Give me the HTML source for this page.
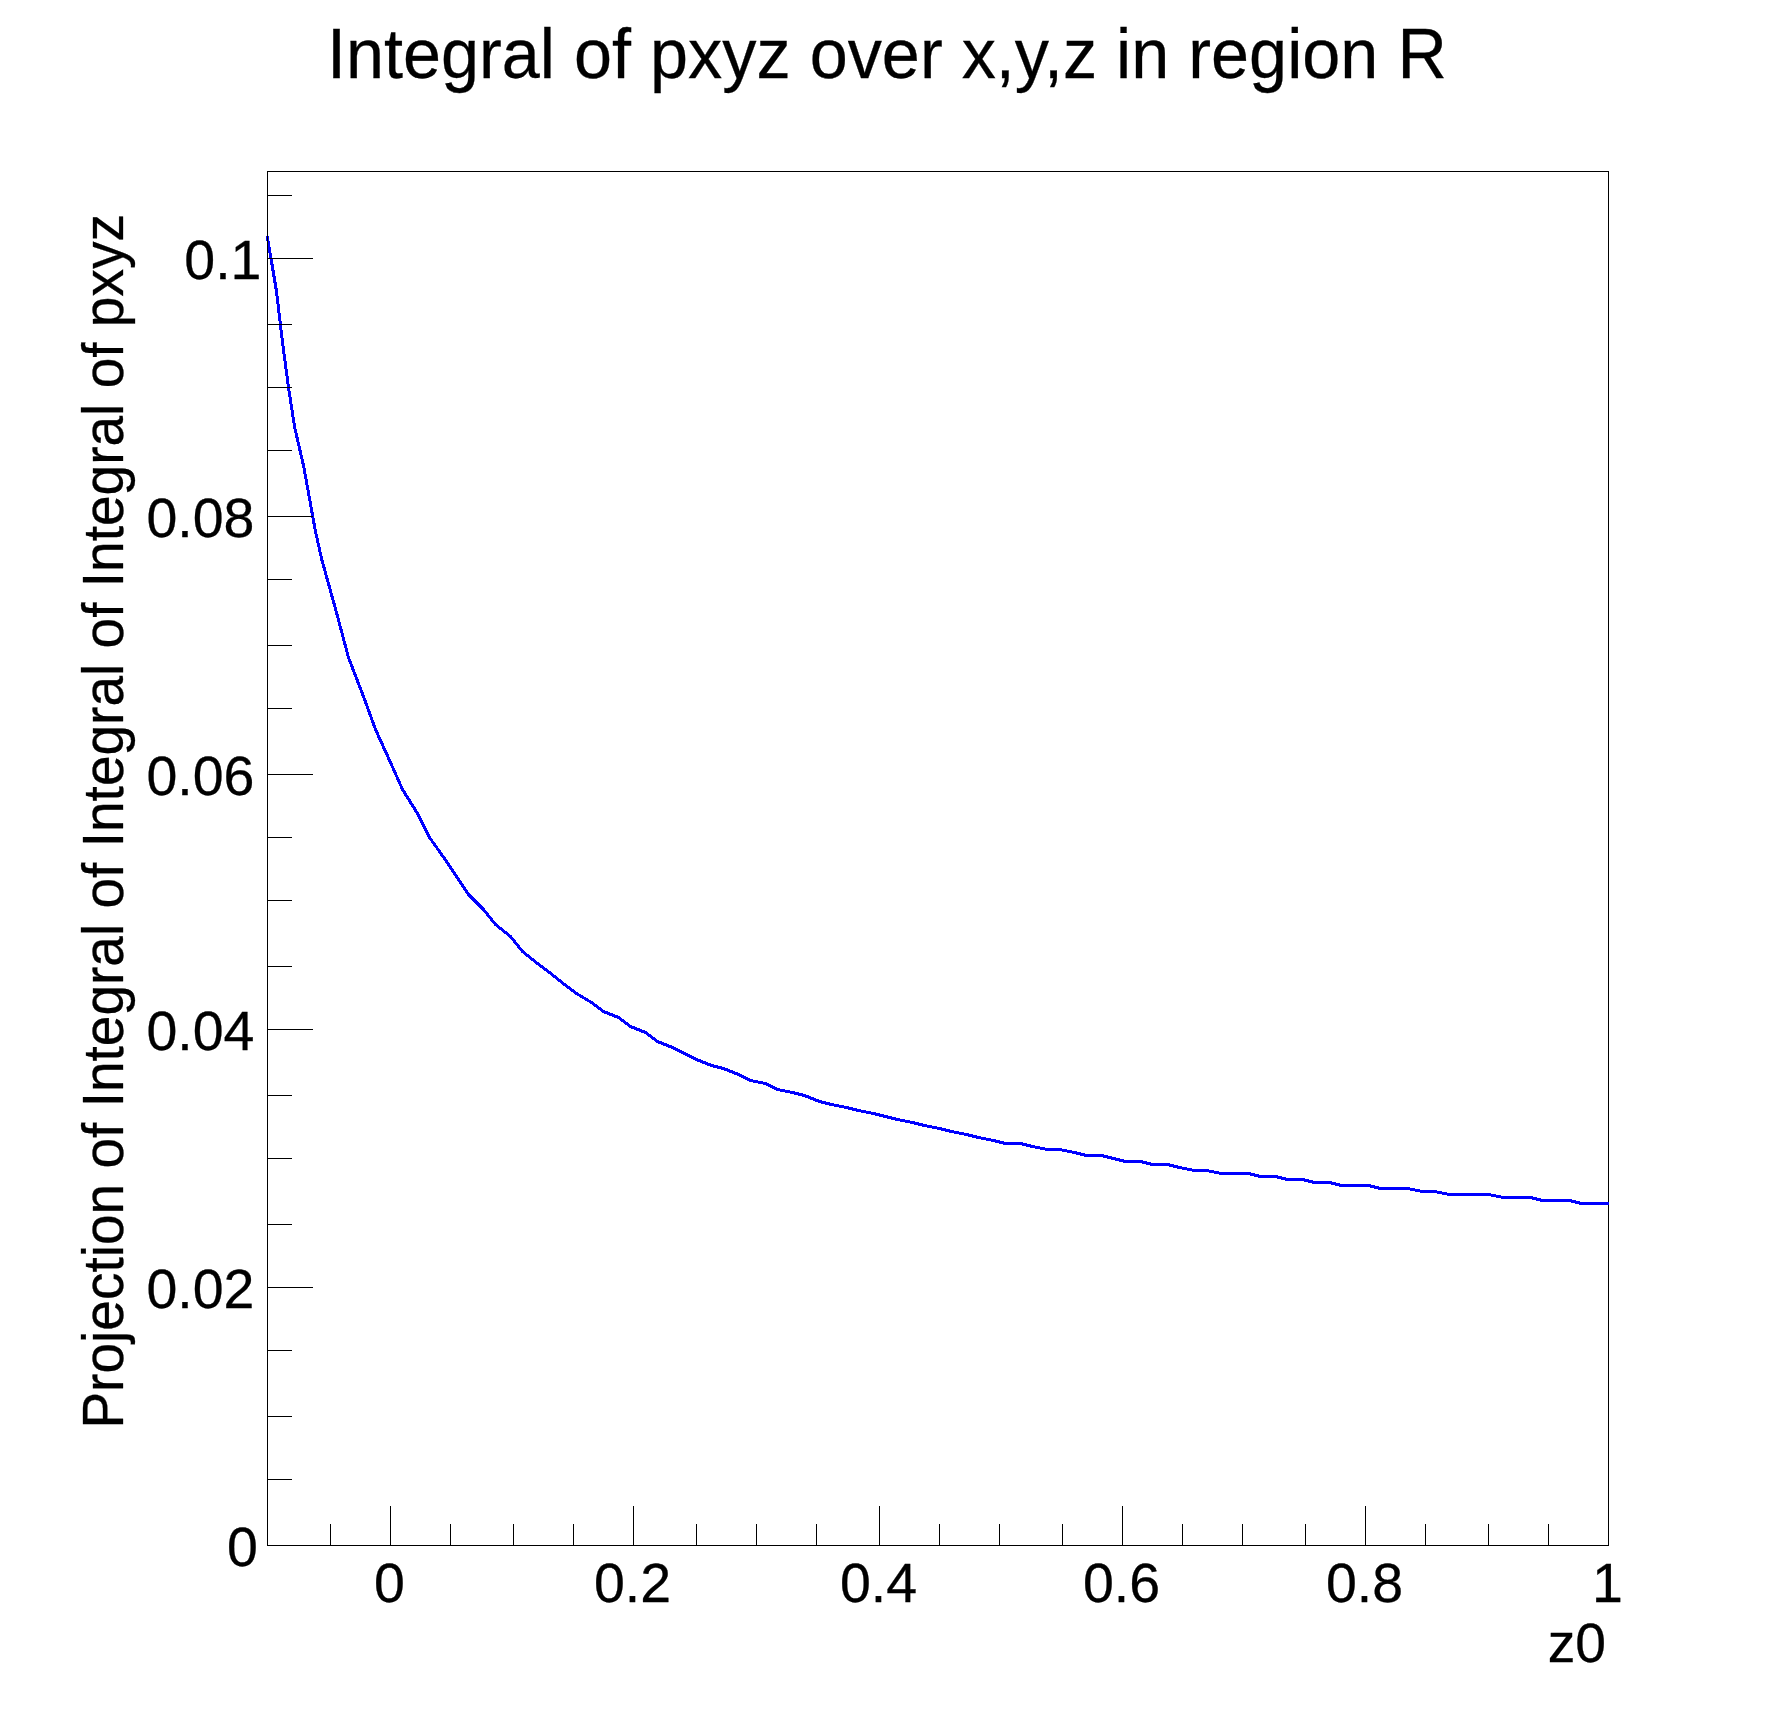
<!DOCTYPE html>
<html lang="en"><head><meta charset="utf-8"><title>Integral of pxyz over x,y,z in region R</title>
<style>html,body{margin:0;padding:0;background:#fff}svg{display:block}text{font-family:"Liberation Sans",sans-serif;fill:#000;stroke:#000;stroke-width:0.3px}</style></head><body>
<svg width="1788" height="1716" viewBox="0 0 1788 1716">
<rect x="0" y="0" width="1788" height="1716" fill="#fff"/>
<g fill="#000" shape-rendering="crispEdges"><rect x="267" y="171" width="1342" height="1"/><rect x="1608" y="171" width="1" height="1375"/></g>
<clipPath id="fc"><rect x="266" y="171" width="1343" height="1374"/></clipPath>
<g clip-path="url(#fc)" shape-rendering="crispEdges"><polyline points="267.5,237.5 276.5,291.5 282.5,342.5 288.5,387.5 294.5,426.5 303.5,465.5 309.5,498.5 315.5,531.5 321.5,558.5 336.5,612.5 348.5,657.5 363.5,696.5 375.5,729.5 390.5,762.5 402.5,789.5 417.5,813.5 429.5,837.5 444.5,858.5 456.5,876.5 468.5,894.5 483.5,909.5 495.5,924.5 510.5,936.5 522.5,951.5 537.5,963.5 549.5,972.5 564.5,984.5 576.5,993.5 591.5,1002.5 603.5,1011.5 618.5,1017.5 630.5,1026.5 645.5,1032.5 657.5,1041.5 672.5,1047.5 684.5,1053.5 696.5,1059.5 711.5,1065.5 723.5,1068.5 738.5,1074.5 750.5,1080.5 765.5,1083.5 777.5,1089.5 792.5,1092.5 804.5,1095.5 819.5,1101.5 831.5,1104.5 846.5,1107.5 858.5,1110.5 873.5,1113.5 885.5,1116.5 897.5,1119.5 912.5,1122.5 924.5,1125.5 939.5,1128.5 951.5,1131.5 966.5,1134.5 978.5,1137.5 993.5,1140.5 1005.5,1143.5 1020.5,1143.5 1032.5,1146.5 1047.5,1149.5 1059.5,1149.5 1074.5,1152.5 1086.5,1155.5 1101.5,1155.5 1113.5,1158.5 1125.5,1161.5 1140.5,1161.5 1152.5,1164.5 1167.5,1164.5 1179.5,1167.5 1194.5,1170.5 1206.5,1170.5 1221.5,1173.5 1233.5,1173.5 1248.5,1173.5 1260.5,1176.5 1275.5,1176.5 1287.5,1179.5 1302.5,1179.5 1314.5,1182.5 1329.5,1182.5 1341.5,1185.5 1353.5,1185.5 1368.5,1185.5 1380.5,1188.5 1395.5,1188.5 1407.5,1188.5 1422.5,1191.5 1434.5,1191.5 1449.5,1194.5 1461.5,1194.5 1476.5,1194.5 1488.5,1194.5 1503.5,1197.5 1515.5,1197.5 1530.5,1197.5 1542.5,1200.5 1557.5,1200.5 1569.5,1200.5 1581.5,1203.5 1596.5,1203.5 1608.5,1203.5" fill="none" stroke="#0000ff" stroke-width="3" stroke-linejoin="miter" stroke-linecap="square"/><path d="M275 290h3v3h-3zM281 341h3v3h-3zM287 386h3v3h-3zM293 425h3v3h-3zM302 464h3v3h-3zM308 497h3v3h-3zM314 530h3v3h-3zM320 557h3v3h-3zM335 611h3v3h-3zM347 656h3v3h-3zM362 695h3v3h-3zM374 728h3v3h-3zM389 761h3v3h-3zM401 788h3v3h-3zM416 812h3v3h-3zM428 836h3v3h-3zM443 857h3v3h-3zM455 875h3v3h-3zM467 893h3v3h-3zM482 908h3v3h-3zM494 923h3v3h-3zM509 935h3v3h-3zM521 950h3v3h-3zM536 962h3v3h-3zM548 971h3v3h-3zM563 983h3v3h-3zM575 992h3v3h-3zM590 1001h3v3h-3zM602 1010h3v3h-3zM617 1016h3v3h-3zM629 1025h3v3h-3zM644 1031h3v3h-3zM656 1040h3v3h-3zM671 1046h3v3h-3zM683 1052h3v3h-3zM695 1058h3v3h-3zM710 1064h3v3h-3zM722 1067h3v3h-3zM737 1073h3v3h-3zM749 1079h3v3h-3zM764 1082h3v3h-3zM776 1088h3v3h-3zM791 1091h3v3h-3zM803 1094h3v3h-3zM818 1100h3v3h-3zM830 1103h3v3h-3zM845 1106h3v3h-3zM857 1109h3v3h-3zM872 1112h3v3h-3zM884 1115h3v3h-3zM896 1118h3v3h-3zM911 1121h3v3h-3zM923 1124h3v3h-3zM938 1127h3v3h-3zM950 1130h3v3h-3zM965 1133h3v3h-3zM977 1136h3v3h-3zM992 1139h3v3h-3zM1004 1142h3v3h-3zM1019 1142h3v3h-3zM1031 1145h3v3h-3zM1046 1148h3v3h-3zM1058 1148h3v3h-3zM1073 1151h3v3h-3zM1085 1154h3v3h-3zM1100 1154h3v3h-3zM1112 1157h3v3h-3zM1124 1160h3v3h-3zM1139 1160h3v3h-3zM1151 1163h3v3h-3zM1166 1163h3v3h-3zM1178 1166h3v3h-3zM1193 1169h3v3h-3zM1205 1169h3v3h-3zM1220 1172h3v3h-3zM1232 1172h3v3h-3zM1247 1172h3v3h-3zM1259 1175h3v3h-3zM1274 1175h3v3h-3zM1286 1178h3v3h-3zM1301 1178h3v3h-3zM1313 1181h3v3h-3zM1328 1181h3v3h-3zM1340 1184h3v3h-3zM1352 1184h3v3h-3zM1367 1184h3v3h-3zM1379 1187h3v3h-3zM1394 1187h3v3h-3zM1406 1187h3v3h-3zM1421 1190h3v3h-3zM1433 1190h3v3h-3zM1448 1193h3v3h-3zM1460 1193h3v3h-3zM1475 1193h3v3h-3zM1487 1193h3v3h-3zM1502 1196h3v3h-3zM1514 1196h3v3h-3zM1529 1196h3v3h-3zM1541 1199h3v3h-3zM1556 1199h3v3h-3zM1568 1199h3v3h-3zM1580 1202h3v3h-3zM1595 1202h3v3h-3z" fill="#0000ff"/></g>
<g fill="#000" shape-rendering="crispEdges">
<rect x="267" y="1545" width="1342" height="1"/>
<rect x="267" y="171" width="1" height="1375"/>
<rect x="267" y="1545" width="46" height="1"/>
<rect x="267" y="1479" width="25" height="1"/>
<rect x="267" y="1416" width="25" height="1"/>
<rect x="267" y="1350" width="25" height="1"/>
<rect x="267" y="1287" width="46" height="1"/>
<rect x="267" y="1224" width="25" height="1"/>
<rect x="267" y="1158" width="25" height="1"/>
<rect x="267" y="1095" width="25" height="1"/>
<rect x="267" y="1029" width="46" height="1"/>
<rect x="267" y="966" width="25" height="1"/>
<rect x="267" y="900" width="25" height="1"/>
<rect x="267" y="837" width="25" height="1"/>
<rect x="267" y="774" width="46" height="1"/>
<rect x="267" y="708" width="25" height="1"/>
<rect x="267" y="645" width="25" height="1"/>
<rect x="267" y="579" width="25" height="1"/>
<rect x="267" y="516" width="46" height="1"/>
<rect x="267" y="450" width="25" height="1"/>
<rect x="267" y="387" width="25" height="1"/>
<rect x="267" y="324" width="25" height="1"/>
<rect x="267" y="258" width="46" height="1"/>
<rect x="267" y="195" width="25" height="1"/>
<rect x="267" y="1524" width="1" height="22"/>
<rect x="330" y="1524" width="1" height="22"/>
<rect x="390" y="1506" width="1" height="40"/>
<rect x="450" y="1524" width="1" height="22"/>
<rect x="513" y="1524" width="1" height="22"/>
<rect x="573" y="1524" width="1" height="22"/>
<rect x="633" y="1506" width="1" height="40"/>
<rect x="696" y="1524" width="1" height="22"/>
<rect x="756" y="1524" width="1" height="22"/>
<rect x="816" y="1524" width="1" height="22"/>
<rect x="879" y="1506" width="1" height="40"/>
<rect x="939" y="1524" width="1" height="22"/>
<rect x="999" y="1524" width="1" height="22"/>
<rect x="1062" y="1524" width="1" height="22"/>
<rect x="1122" y="1506" width="1" height="40"/>
<rect x="1182" y="1524" width="1" height="22"/>
<rect x="1242" y="1524" width="1" height="22"/>
<rect x="1305" y="1524" width="1" height="22"/>
<rect x="1365" y="1506" width="1" height="40"/>
<rect x="1425" y="1524" width="1" height="22"/>
<rect x="1488" y="1524" width="1" height="22"/>
<rect x="1548" y="1524" width="1" height="22"/>
<rect x="1608" y="1506" width="1" height="40"/>
</g>
<text transform="translate(327,78) scale(0.97,1)" font-size="70.5">Integral of pxyz over x,y,z in region R</text>
<text transform="translate(258,1566) scale(0.995,1)" font-size="55.8" text-anchor="end">0</text>
<text transform="translate(254.5,1308) scale(0.995,1)" font-size="55.8" text-anchor="end">0.02</text>
<text transform="translate(254.5,1050) scale(0.995,1)" font-size="55.8" text-anchor="end">0.04</text>
<text transform="translate(254.5,795) scale(0.995,1)" font-size="55.8" text-anchor="end">0.06</text>
<text transform="translate(254.5,537) scale(0.995,1)" font-size="55.8" text-anchor="end">0.08</text>
<text transform="translate(261.5,279) scale(0.995,1)" font-size="55.8" text-anchor="end">0.1</text>
<text transform="translate(389.5,1601.8) scale(0.995,1)" font-size="55.8" text-anchor="middle">0</text>
<text transform="translate(632.5,1601.8) scale(0.995,1)" font-size="55.8" text-anchor="middle">0.2</text>
<text transform="translate(878.5,1601.8) scale(0.995,1)" font-size="55.8" text-anchor="middle">0.4</text>
<text transform="translate(1121.5,1601.8) scale(0.995,1)" font-size="55.8" text-anchor="middle">0.6</text>
<text transform="translate(1364.5,1601.8) scale(0.995,1)" font-size="55.8" text-anchor="middle">0.8</text>
<text transform="translate(1607.5,1601.8) scale(0.995,1)" font-size="55.8" text-anchor="middle">1</text>
<text transform="translate(1606,1662) scale(0.99,1)" font-size="55.8" text-anchor="end">z0</text>
<text transform="translate(123,214) rotate(-90) scale(0.966,1)" font-size="57" text-anchor="end">Projection of Integral of Integral of Integral of pxyz</text>
</svg></body></html>
